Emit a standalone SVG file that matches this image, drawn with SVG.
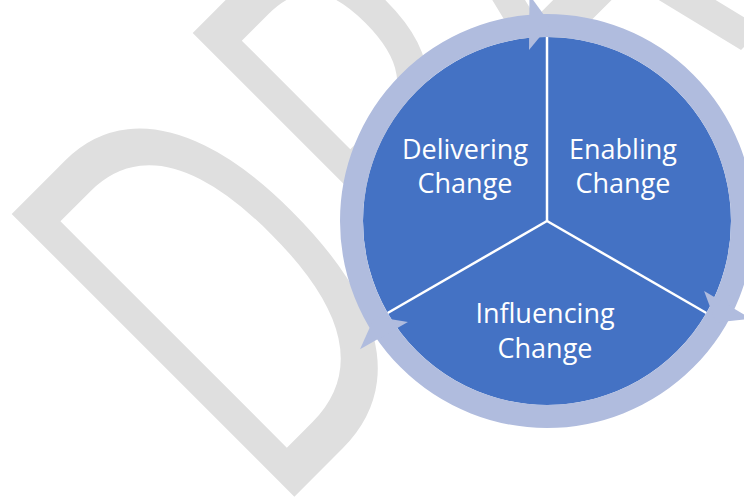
<svg xmlns="http://www.w3.org/2000/svg" width="744" height="499" viewBox="0 0 744 499" xmlns:xlink="http://www.w3.org/1999/xlink">
  <style>
    .wm { font-family: "Open Sans", "Noto Sans", sans-serif; fill: #DFDFDF; }
    .sector { fill: #4472C4; }
    .divider { stroke: #FFFFFF; stroke-width: 2.5; fill: none; }
    .ring { fill: none; stroke: #B0BCDE; stroke-width: 23; }
    .head { fill: #B0BCDE; }
    .label { font-family: "Open Sans", "Noto Sans", sans-serif; font-size: 27px; fill: #FFFFFF; text-anchor: middle; }
  </style>
  <defs>
    <polygon id="arrowhead" class="head" points="529.5,-5 550.5,24 529,50"/>
  </defs>
  <rect width="744" height="499" fill="#FFFFFF"/>
  <g id="watermark" transform="translate(270,521) rotate(-45) scale(0.63,1)">
    <text class="wm" x="0" y="0" font-size="560">DRAFT</text>
  </g>
  <g id="delivering">
    <path class="sector" d="M547,221 L387.65,313 A184,184 0 0 1 547,37 Z"/>
    <text class="label" x="465" y="159">Delivering</text>
    <text class="label" x="465" y="193">Change</text>
  </g>
  <g id="enabling">
    <path class="sector" d="M547,221 L547,37 A184,184 0 0 1 706.35,313 Z"/>
    <text class="label" x="623" y="159">Enabling</text>
    <text class="label" x="623" y="193">Change</text>
  </g>
  <g id="influencing">
    <path class="sector" d="M547,221 L706.35,313 A184,184 0 0 1 387.65,313 Z"/>
    <text class="label" x="545" y="323">Influencing</text>
    <text class="label" x="545" y="358">Change</text>
  </g>
  <g id="dividers">
    <line class="divider" x1="547" y1="221" x2="547" y2="37"/>
    <line class="divider" x1="547" y1="221" x2="706.35" y2="313"/>
    <line class="divider" x1="547" y1="221" x2="387.65" y2="313"/>
  </g>
  <g id="connectors">
    <circle class="ring" cx="547" cy="221" r="195.5"/>
    <use xlink:href="#arrowhead"/>
    <use xlink:href="#arrowhead" transform="rotate(120 547 221)"/>
    <use xlink:href="#arrowhead" transform="rotate(240 547 221)"/>
  </g>
</svg>
